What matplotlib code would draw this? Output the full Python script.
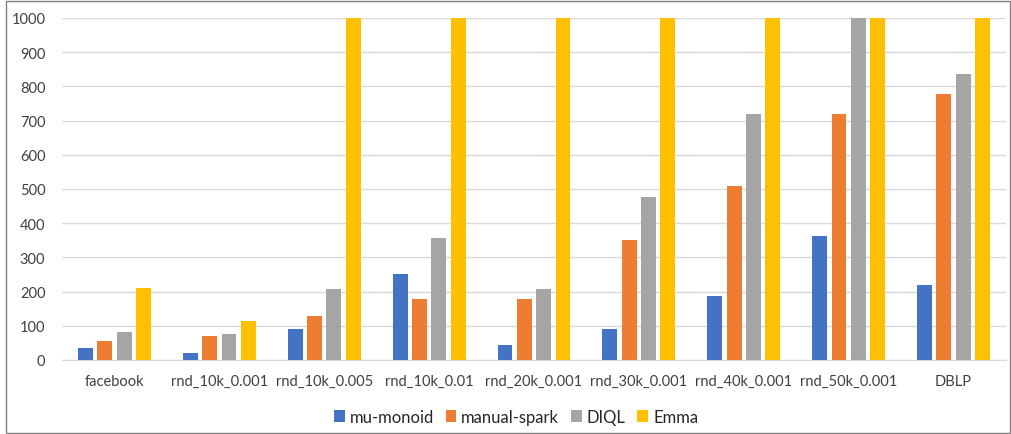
import matplotlib.pyplot as plt
import numpy as np
from matplotlib.patches import Rectangle

plt.rcParams['font.family'] = ['Lato', 'DejaVu Sans']

datasets = ["facebook", "rnd_10k_0.001", "rnd_10k_0.005", "rnd_10k_0.01",
            "rnd_20k_0.001", "rnd_30k_0.001", "rnd_40k_0.001", "rnd_50k_0.001", "DBLP"]
mu_monoid = [35, 20, 90, 251, 44, 90, 186, 364, 219]
manual_spark = [56, 70, 129, 178, 178, 350, 509, 718, 778]
diql = [82, 76, 208, 357, 208, 477, 718, 1000, 836]
emma = [210, 114, 1000, 1000, 1000, 1000, 1000, 1000, 1000]

series = [("mu-monoid", mu_monoid, "#4472C4"),
          ("manual-spark", manual_spark, "#ED7D31"),
          ("DIQL", diql, "#A5A5A5"),
          ("Emma", emma, "#FFC000")]

fig = plt.figure(figsize=(10.11, 4.35), dpi=100)
ax = fig.add_axes([62 / 1011, 1 - 361 / 435, (1006 - 62) / 1011, (361 - 19) / 435])

x = np.arange(len(datasets))
pitch = 0.184
for i, (name, vals, color) in enumerate(series):
    ax.bar(x + (i - 1.5) * pitch, vals, width=0.142, color=color, label=name, zorder=3)

ax.set_xlim(-0.5, len(datasets) - 0.5)
ax.set_ylim(0, 1000)
ax.set_yticks(range(0, 1001, 100))
ax.set_xticks(x)
ax.set_xticklabels(datasets)
ax.grid(axis='y', color='#D9D9D9', linewidth=1, zorder=0)
for s in ['top', 'right', 'left']:
    ax.spines[s].set_visible(False)
ax.spines['bottom'].set_color('#D9D9D9')
ax.tick_params(length=0, labelsize=10.5, colors='#404040')
ax.tick_params(axis='y', pad=12)
ax.tick_params(axis='x', pad=10)

fig.legend(loc='center', bbox_to_anchor=(516 / 1011, 1 - 418 / 435), ncol=4,
           frameon=False, fontsize=12, handlelength=0.65, handleheight=0.75,
           handletextpad=0.3, columnspacing=0.7, labelcolor='#262626')

fig.patches.append(Rectangle((6 / 1011, 1 / 435), 1004 / 1011, 432 / 435,
                             transform=fig.transFigure, fill=False,
                             edgecolor='#808080', linewidth=1))

fig.savefig("out.png", dpi=100)
